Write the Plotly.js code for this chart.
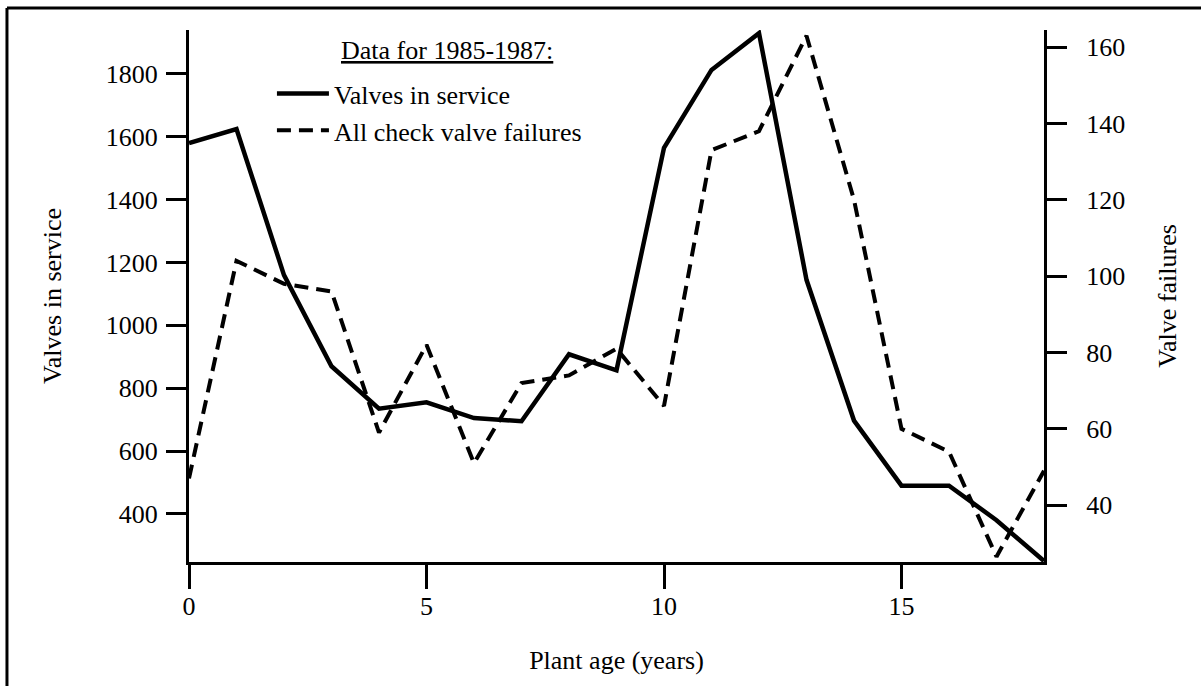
<!DOCTYPE html>
<html>
<head>
<meta charset="utf-8">
<script src="https://cdn.plot.ly/plotly-3.0.1.min.js"></script>
<style>
html,body{margin:0;padding:0;background:#fff;}
#chart{width:1201px;height:686px;}
</style>
</head>
<body>
<div id="chart"></div>
<script>
// Data
const plantAge = [0, 1, 2, 3, 4, 5, 6, 7, 8, 9, 10, 11, 12, 13, 14, 15, 16, 17, 18];
const valvesInService = [1580, 1625, 1160, 870, 735, 755, 705, 695, 908, 857, 1565, 1813, 1930, 1145, 697, 490, 490, 380, 250];
const valveFailures = [47, 104, 98, 96, 59, 82, 51, 72, 74, 81, 66, 133, 138, 163, 120, 60, 54, 26.5, 49];

const xTicks = [0, 5, 10, 15];
const yTicksLeft = [400, 600, 800, 1000, 1200, 1400, 1600, 1800];
const yTicksRight = [40, 60, 80, 100, 120, 140, 160];

const seriesNames = ['Valves in service', 'All check valve failures'];
const legendTitle = 'Data for 1985-1987:';
const xTitle = 'Plant age (years)';
const yTitleLeft = 'Valves in service';
const yTitleRight = 'Valve failures';

const FONT = 'Liberation Serif, Times New Roman, serif';

const traces = [
  {
    x: plantAge, y: valvesInService, name: seriesNames[0],
    type: 'scatter', mode: 'lines',
    line: {color: '#000', width: 4.5},
    yaxis: 'y', cliponaxis: true
  },
  {
    x: plantAge, y: valveFailures, name: seriesNames[1],
    type: 'scatter', mode: 'lines',
    line: {color: '#000', width: 4, dash: '14px,8px'},
    yaxis: 'y2', cliponaxis: true
  }
];

const layout = {
  width: 1201, height: 686,
  paper_bgcolor: '#fff', plot_bgcolor: '#fff',
  margin: {l: 189, r: 157, t: 30, b: 124, pad: 0},
  font: {family: FONT, size: 26, color: '#000'},
  showlegend: true,
  legend: {
    x: 0.097, y: 0.9245, xanchor: 'left', yanchor: 'top',
    bgcolor: 'rgba(0,0,0,0)', borderwidth: 0,
    itemwidth: 52,
    font: {family: FONT, size: 26, color: '#000'},
    tracegroupgap: 0
  },
  annotations: [
    {text: legendTitle, xref: 'paper', yref: 'paper', x: 0.3018, y: 0.962,
     xanchor: 'center', yanchor: 'middle', showarrow: false,
     font: {family: FONT, size: 26, color: '#000', lineposition: 'under'}}
  ],
  xaxis: {
    range: [0, 18], tickvals: xTicks, ticktext: xTicks.map(String),
    showgrid: false, zeroline: false,
    showline: true, linecolor: '#000', linewidth: 3,
    ticks: 'outside', ticklen: 24, tickwidth: 3, tickcolor: '#000',
    ticklabelstandoff: -5,
    tickfont: {family: FONT, size: 26, color: '#000'},
    title: {text: xTitle, font: {family: FONT, size: 26, color: '#000'}, standoff: 31},
    fixedrange: true
  },
  yaxis: {
    range: [247, 1940], tickvals: yTicksLeft, ticktext: yTicksLeft.map(String),
    showgrid: false, zeroline: false,
    showline: true, linecolor: '#000', linewidth: 3,
    ticks: 'outside', ticklen: 20, tickwidth: 3, tickcolor: '#000',
    ticklabelstandoff: 3,
    tickfont: {family: FONT, size: 26, color: '#000'},
    title: {text: yTitleLeft, font: {family: FONT, size: 26, color: '#000'}, standoff: 37},
    fixedrange: true
  },
  yaxis2: {
    range: [25.1, 164.5], tickvals: yTicksRight, ticktext: yTicksRight.map(String),
    overlaying: 'y', side: 'right', anchor: 'x',
    showgrid: false, zeroline: false,
    showline: true, linecolor: '#000', linewidth: 3,
    ticks: 'outside', ticklen: 20, tickwidth: 3, tickcolor: '#000',
    ticklabelstandoff: 14,
    tickfont: {family: FONT, size: 26, color: '#000'},
    title: {text: yTitleRight, font: {family: FONT, size: 26, color: '#000'}, standoff: 34},
    fixedrange: true
  },
  shapes: [
    // outer frame: top and left edges
    {type: 'line', xref: 'paper', yref: 'paper', x0: -0.2129, x1: 1.2, y0: 1.0414, y1: 1.0414, line: {color: '#000', width: 3}},
    {type: 'line', xref: 'paper', yref: 'paper', x0: -0.2129, x1: -0.2129, y0: 1.0414, y1: -0.25, line: {color: '#000', width: 3}}
  ]
};

Plotly.newPlot('chart', traces, layout, {displayModeBar: false, staticPlot: true});
</script>
</body>
</html>
